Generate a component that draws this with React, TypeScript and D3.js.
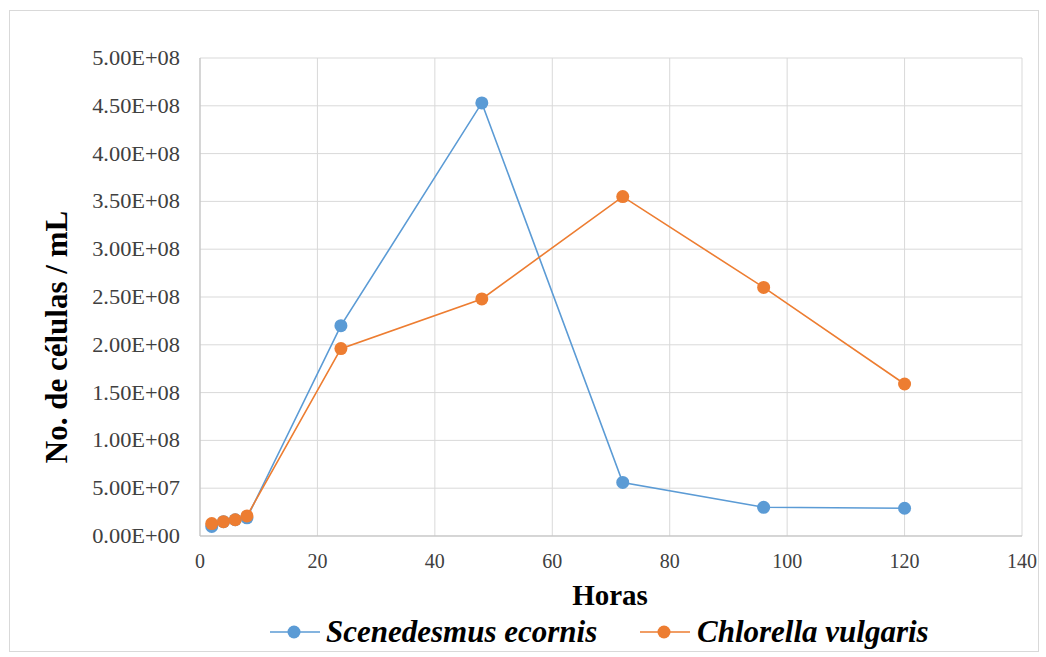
import React from "react";
import * as d3 from "d3";

const hours = [2, 4, 6, 8, 24, 48, 72, 96, 120];
const scenedesmus = [1.0e7, 1.5e7, 1.7e7, 1.9e7, 2.2e8, 4.53e8, 5.6e7, 3.0e7, 2.9e7];
const chlorella = [1.3e7, 1.5e7, 1.7e7, 2.1e7, 1.96e8, 2.48e8, 3.55e8, 2.6e8, 1.59e8];
const xTicks = [0, 20, 40, 60, 80, 100, 120, 140];
const yTicks = [0, 5e7, 1e8, 1.5e8, 2e8, 2.5e8, 3e8, 3.5e8, 4e8, 4.5e8, 5e8];

const series = [
  { name: "Scenedesmus ecornis", values: scenedesmus, color: "#5b9bd5" },
  { name: "Chlorella vulgaris", values: chlorella, color: "#ed7d31" },
];

const W = 1046;
const H = 657;
const plot = { left: 200, right: 1022, top: 58, bottom: 536 };
const FONT = "'Liberation Serif', 'Times New Roman', serif";

function sci(v: number) {
  if (v === 0) return "0.00E+00";
  const e = Math.floor(Math.log10(v));
  const m = v / Math.pow(10, e);
  return `${m.toFixed(2)}E+${String(e).padStart(2, "0")}`;
}

export default function App() {
  const x = d3.scaleLinear().domain([0, 140]).range([plot.left, plot.right]);
  const y = d3.scaleLinear().domain([0, 5e8]).range([plot.bottom, plot.top]);
  const line = d3
    .line<number>()
    .x((_, i) => x(hours[i]))
    .y((d) => y(d));

  const legendItems = [
    { ...series[0], lx: 270, tx: 326 },
    { ...series[1], lx: 640, tx: 697 },
  ];

  return (
    <svg
      width={W}
      height={H}
      style={{ position: "absolute", left: 0, top: 0, background: "#fff" }}
      fontFamily={FONT}
    >
      <rect x={9.5} y={10.5} width={1029} height={641} fill="#fff" stroke="#d9d9d9" />
      {/* gridlines */}
      {yTicks.map((t) => (
        <line key={"gy" + t} x1={plot.left} x2={plot.right} y1={y(t)} y2={y(t)} stroke="#d9d9d9" strokeWidth={1} />
      ))}
      {xTicks.map((t) => (
        <line key={"gx" + t} x1={x(t)} x2={x(t)} y1={plot.top} y2={plot.bottom} stroke="#d9d9d9" strokeWidth={1} />
      ))}
      {/* axis lines */}
      <line x1={plot.left} x2={plot.left} y1={plot.top} y2={plot.bottom} stroke="#bfbfbf" />
      <line x1={plot.left} x2={plot.right} y1={plot.bottom} y2={plot.bottom} stroke="#bfbfbf" />
      {/* tick labels */}
      {yTicks.map((t) => (
        <text
          key={"ty" + t}
          transform={`translate(180, ${y(t)}) scale(1.12, 1)`}
          dy="0.35em"
          textAnchor="end"
          fontSize={20}
          fill="#404040"
        >
          {sci(t)}
        </text>
      ))}
      {xTicks.map((t) => (
        <text key={"tx" + t} x={x(t)} y={568} textAnchor="middle" fontSize={20} fill="#404040">
          {t}
        </text>
      ))}
      {/* axis titles */}
      <text x={610} y={605} textAnchor="middle" fontSize={29} fontWeight="bold" fill="#000">
        Horas
      </text>
      <text
        transform={`translate(67, 337) rotate(-90)`}
        textAnchor="middle"
        fontSize={31}
        fontWeight="bold"
        fill="#000"
      >
        No. de células / mL
      </text>
      {/* series */}
      {series.map((s) => (
        <g key={s.name}>
          <path d={line(s.values) || ""} fill="none" stroke={s.color} strokeWidth={1.6} />
          {s.values.map((v, i) => (
            <circle key={i} cx={x(hours[i])} cy={y(v)} r={6.5} fill={s.color} />
          ))}
        </g>
      ))}
      {/* legend */}
      {legendItems.map((s) => (
        <g key={"lg" + s.name}>
          <line x1={s.lx} x2={s.lx + 50} y1={632} y2={632} stroke={s.color} strokeWidth={1.6} />
          <circle cx={s.lx + 24} cy={632} r={6.5} fill={s.color} />
          <text x={s.tx} y={642} fontSize={31} fontWeight="bold" fontStyle="italic" fill="#000">
            {s.name}
          </text>
        </g>
      ))}
    </svg>
  );
}
